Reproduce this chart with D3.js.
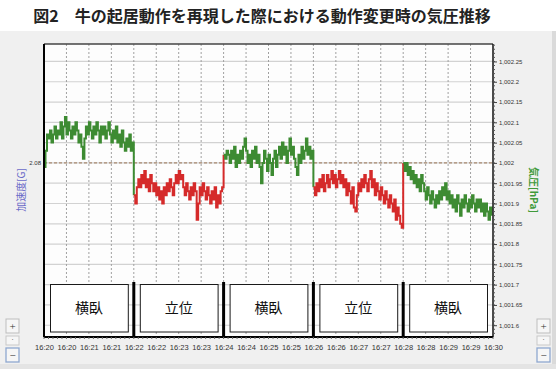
<!DOCTYPE html>
<html>
<head>
<meta charset="utf-8">
<script src="https://cdn.jsdelivr.net/npm/d3@7"></script>
<style>
  body { margin: 0; background: #fff; }
  svg { display: block; }
</style>
</head>
<body>
<div id="chart"></div>
<script>
// chart text
const chartTitle = '図2　牛の起居動作を再現した際における動作変更時の気圧推移';
const leftTitle = '加速度[G]';
const rightTitle = '気圧[hPa]';

// posture phases (label, start/end times)
const phaseLabels = ['横臥', '立位', '横臥', '立位', '横臥'];
const phaseTimes = ['16:20', '16:22', '16:24', '16:26', '16:28', '16:30'];
const phaseColors = ['#3d8b32', '#d52a2a', '#3d8b32', '#d52a2a', '#3d8b32'];

// pressure [hPa], one sample every 2 s inside each phase
const sampleStep = 2;
const pressure1 = [1001.99, 1002.03, 1002.07,
                   1002.06, 1002.08, 1002.05, 1002.07, 1002.09, 1002.06, 1002.08, 1002.07, 1002.10, 1002.06,
                   1002.09, 1002.113, 1002.07, 1002.10,
                   1002.08, 1002.06, 1002.09, 1002.07, 1002.10, 1002.08, 1002.05, 1002.07,
                   1002.04, 1002.01, 1002.06,
                   1002.09, 1002.07, 1002.10, 1002.08, 1002.06, 1002.09, 1002.07, 1002.10, 1002.08, 1002.05,
                   1002.09, 1002.07, 1002.09, 1002.06, 1002.08, 1002.10, 1002.07, 1002.05,
                   1002.08, 1002.06, 1002.09, 1002.05, 1002.07, 1002.04, 1002.08, 1002.05, 1002.03, 1002.06,
                   1002.04, 1002.07, 1002.03, 1002.05];
const pressure2 = [1001.92, 1001.90, 1001.94, 1001.96,
                   1001.94, 1001.97, 1001.95, 1001.98, 1001.94, 1001.96, 1001.93, 1001.97, 1001.95,
                   1001.93, 1001.95, 1001.92, 1001.94, 1001.91, 1001.93, 1001.90,
                   1001.94, 1001.92, 1001.95, 1001.93, 1001.96, 1001.94, 1001.92, 1001.95,
                   1001.97, 1001.95, 1001.98, 1001.96, 1001.97,
                   1001.94, 1001.92, 1001.95, 1001.93, 1001.91, 1001.94, 1001.92, 1001.95, 1001.93,
                   1001.86, 1001.90,
                   1001.94, 1001.92, 1001.95, 1001.93, 1001.91, 1001.94, 1001.92,
                   1001.90, 1001.93, 1001.91, 1001.94, 1001.89, 1001.92, 1001.90, 1001.93, 1001.94];
const pressure3 = [1002.02, 1002.01, 1002.03, 1002.02,
                   1002.00, 1002.03, 1002.01, 1002.04, 1001.99, 1002.02, 1002.00, 1002.03, 1002.01,
                   1002.04, 1002.06, 1002.03,
                   1002.00, 1002.02, 1001.99, 1002.03, 1002.01, 1002.04, 1002.00, 1002.02, 1001.99,
                   1001.95, 1002.00,
                   1002.03, 1002.01, 1001.98, 1002.02, 1002.00, 1001.97, 1002.01, 1002.03, 1001.99,
                   1002.02, 1002.04, 1002.01, 1002.05, 1002.02, 1002.04, 1002.00, 1002.03, 1002.06, 1002.02,
                   1002.04, 1002.01, 1001.99, 1001.97,
                   1002.02, 1002.00, 1002.04, 1002.01, 1002.03, 1002.06, 1002.02, 1002.04, 1002.01, 1002.03];
const pressure4 = [1001.94, 1001.92, 1001.95, 1001.93,
                   1001.96, 1001.94, 1001.97, 1001.93, 1001.95, 1001.97, 1001.94,
                   1001.96, 1001.98, 1001.95, 1001.97, 1001.94, 1001.96, 1001.98, 1001.95, 1001.97,
                   1001.94, 1001.96, 1001.92, 1001.95, 1001.93, 1001.90, 1001.94,
                   1001.89, 1001.88, 1001.92,
                   1001.95, 1001.93, 1001.96, 1001.94, 1001.97, 1001.95, 1001.93, 1001.96, 1001.98, 1001.94,
                   1001.96, 1001.92, 1001.95, 1001.93,
                   1001.91, 1001.94, 1001.92, 1001.90, 1001.93, 1001.91, 1001.89, 1001.92, 1001.90, 1001.88,
                   1001.91, 1001.86, 1001.89, 1001.87, 1001.85, 1001.84];
const pressure5 = [1002.00, 1001.98, 1002.00, 1001.97, 1001.99,
                   1001.96, 1001.98, 1001.95, 1001.97, 1001.94, 1001.96, 1001.93, 1001.97, 1001.95, 1001.93,
                   1001.91, 1001.94, 1001.92, 1001.90, 1001.93, 1001.91, 1001.89, 1001.92,
                   1001.90, 1001.93, 1001.91, 1001.94, 1001.92, 1001.95, 1001.91, 1001.93,
                   1001.90, 1001.92, 1001.89, 1001.91, 1001.88, 1001.92, 1001.90, 1001.87, 1001.91,
                   1001.89, 1001.92, 1001.90, 1001.88, 1001.91, 1001.89, 1001.92, 1001.90, 1001.88, 1001.91,
                   1001.89, 1001.91, 1001.88, 1001.90, 1001.87, 1001.90, 1001.88, 1001.86, 1001.89, 1001.87];
const pressureSegments = [pressure1, pressure2, pressure3, pressure4, pressure5];

// axis settings
const pressureDomain = [1001.571, 1002.293];
const pressureTicks = d3.ticks(1001.6, 1002.25, 13);
const refPressure = 1002;     // dashed reference line
const refAccelLabel = '2.08'; // acceleration value at that line

class PressureChart {
    constructor(_config) {
        this.config = {
            parentElement: _config.parentElement,
            containerWidth: _config.containerWidth || 556,
            containerHeight: _config.containerHeight || 369,
            plot: _config.plot || {left: 44, right: 493, top: 44, bottom: 337}
        };
        this.initVis();
    }

    initVis() {
        let vis = this;
        const p = vis.config.plot;
        vis.parseTime = d3.timeParse('%H:%M');

        vis.svg = d3.select(vis.config.parentElement)
            .append('svg')
            .attr('width', vis.config.containerWidth)
            .attr('height', vis.config.containerHeight);

        vis.xScale = d3.scaleTime()
            .domain([vis.parseTime(phaseTimes[0]), vis.parseTime(phaseTimes[phaseTimes.length - 1])])
            .range([p.left, p.right]);

        vis.yScale = d3.scaleLinear()
            .domain(pressureDomain)
            .range([p.bottom, p.top]);

        vis.renderVis();
    }

    drawButtons(x) {
        let vis = this;
        const g = vis.svg.append('g').attr('transform', `translate(${x},0)`);
        g.append('rect').attr('x', 0).attr('y', 319).attr('width', 13).attr('height', 14)
            .attr('fill', '#f6f6f6').attr('stroke', '#bdbdbd');
        g.append('text').attr('x', 6.5).attr('y', 329.5).attr('text-anchor', 'middle')
            .attr('font-size', 11).attr('fill', '#333').text('+');
        g.append('rect').attr('x', 0).attr('y', 336).attr('width', 13).attr('height', 9)
            .attr('fill', '#f6f6f6').attr('stroke', '#c8c8c8');
        g.append('text').attr('x', 6.5).attr('y', 342).attr('text-anchor', 'middle')
            .attr('font-size', 8).attr('fill', '#555').text('·');
        g.append('rect').attr('x', 0).attr('y', 348).attr('width', 13).attr('height', 14)
            .attr('fill', '#f6f6f6').attr('stroke', '#8fa8d0').attr('stroke-width', 1.3);
        g.append('text').attr('x', 6.5).attr('y', 358.5).attr('text-anchor', 'middle')
            .attr('font-size', 11).attr('fill', '#333').text('−');
    }

    renderVis() {
        let vis = this;
        const p = vis.config.plot;
        const x = vis.xScale, y = vis.yScale;

        // title
        vis.svg.append('text')
            .attr('x', 262).attr('y', 22)
            .attr('text-anchor', 'middle')
            .attr('font-family', '"Noto Sans CJK JP", sans-serif')
            .attr('font-weight', 'bold')
            .attr('font-size', 16)
            .attr('fill', '#222')
            .text(chartTitle);

        // window panel
        vis.svg.append('rect').attr('x', 0).attr('y', 31).attr('width', 556).attr('height', 338).attr('fill', '#f0f0f0');
        vis.svg.append('rect').attr('x', 552).attr('y', 31).attr('width', 4).attr('height', 338).attr('fill', '#dadada');
        vis.svg.append('rect').attr('x', 0).attr('y', 364).attr('width', 556).attr('height', 5).attr('fill', '#e4e4e4');

        // plot background
        vis.svg.append('rect')
            .attr('x', p.left).attr('y', p.top)
            .attr('width', p.right - p.left).attr('height', p.bottom - p.top)
            .attr('fill', '#fdfdfd');

        // horizontal grid
        vis.svg.append('g').selectAll('line')
            .data(pressureTicks)
            .join('line')
                .attr('x1', p.left).attr('x2', p.right)
                .attr('y1', d => y(d)).attr('y2', d => y(d))
                .attr('stroke', '#d2d2d2').attr('stroke-width', 1.2);

        // vertical grid every 30 s
        const gridTimes = x.ticks(d3.timeSecond.every(30)).slice(1, -1);
        vis.svg.append('g').selectAll('line')
            .data(gridTimes)
            .join('line')
                .attr('x1', d => x(d)).attr('x2', d => x(d))
                .attr('y1', p.top).attr('y2', p.bottom)
                .attr('stroke', '#a0a0a0').attr('stroke-dasharray', '2,2');

        // reference line
        vis.svg.append('line')
            .attr('x1', p.left).attr('x2', p.right)
            .attr('y1', y(refPressure)).attr('y2', y(refPressure))
            .attr('stroke', '#a98b72').attr('stroke-width', 1.2).attr('stroke-dasharray', '3,2');

        // pressure line, each phase coloured, joined to the next phase's first sample
        const line = d3.line()
            .x(d => x(d.t)).y(d => y(d.v))
            .curve(d3.curveStepAfter);

        pressureSegments.forEach((seg, k) => {
            const start = vis.parseTime(phaseTimes[k]);
            let pts = seg.map((v, i) => ({t: d3.timeSecond.offset(start, i * sampleStep), v: v}));
            if (k < pressureSegments.length - 1) {
                pts.push({t: vis.parseTime(phaseTimes[k + 1]), v: pressureSegments[k + 1][0]});
            }
            vis.svg.append('path')
                .datum(pts)
                .attr('fill', 'none')
                .attr('stroke', phaseColors[k])
                .attr('stroke-width', 2)
                .attr('d', line);
        });

        // phase boxes
        const phases = phaseLabels.map((label, i) => ({
            label: label,
            start: vis.parseTime(phaseTimes[i]),
            end: vis.parseTime(phaseTimes[i + 1])
        }));
        const boxes = vis.svg.append('g').selectAll('g')
            .data(phases)
            .join('g');
        boxes.append('rect')
            .attr('x', d => x(d.start) + 6.5)
            .attr('y', 284.5)
            .attr('width', d => x(d.end) - x(d.start) - 12)
            .attr('height', 47.5)
            .attr('fill', '#fff')
            .attr('stroke', '#1a1a1a');
        boxes.append('text')
            .attr('x', d => (x(d.start) + x(d.end)) / 2)
            .attr('y', 313)
            .attr('text-anchor', 'middle')
            .attr('font-family', '"Noto Sans CJK JP", sans-serif')
            .attr('font-size', 14)
            .attr('fill', '#111')
            .text(d => d.label);

        // thick separators between phases
        vis.svg.append('g').selectAll('line')
            .data(phaseTimes.slice(1, -1))
            .join('line')
                .attr('x1', d => x(vis.parseTime(d))).attr('x2', d => x(vis.parseTime(d)))
                .attr('y1', 282).attr('y2', p.bottom)
                .attr('stroke', '#000').attr('stroke-width', 3);

        // plot border
        vis.svg.append('line').attr('x1', p.left).attr('x2', p.right).attr('y1', p.top).attr('y2', p.top)
            .attr('stroke', '#444').attr('stroke-width', 1.5);
        vis.svg.append('line').attr('x1', p.right).attr('x2', p.right).attr('y1', p.top).attr('y2', p.bottom)
            .attr('stroke', '#111').attr('stroke-width', 1.5);
        vis.svg.append('line').attr('x1', p.left).attr('x2', p.right).attr('y1', p.bottom).attr('y2', p.bottom)
            .attr('stroke', '#000').attr('stroke-width', 2);
        vis.svg.append('line').attr('x1', p.left).attr('x2', p.left).attr('y1', p.top).attr('y2', p.bottom)
            .attr('stroke', '#000').attr('stroke-width', 2);

        // right (pressure) axis
        const minorY = d3.ticks(1001.58, 1002.29, 70);
        vis.svg.append('g').selectAll('line')
            .data(minorY)
            .join('line')
                .attr('x1', p.right).attr('x2', p.right + 2)
                .attr('y1', d => y(d)).attr('y2', d => y(d))
                .attr('stroke', '#555');
        const yAxis = vis.svg.append('g')
            .attr('transform', `translate(${p.right},0)`)
            .call(d3.axisRight(y).tickValues(pressureTicks).tickSize(4).tickPadding(2).tickFormat(d3.format(',')));
        yAxis.select('.domain').remove();
        yAxis.selectAll('line').attr('stroke', '#444');
        yAxis.selectAll('text')
            .attr('font-family', '"Liberation Sans Narrow", "Liberation Sans", sans-serif')
            .attr('font-size', 6)
            .attr('fill', '#333');

        // bottom (time) axis
        const minorX = x.ticks(d3.timeSecond.every(6));
        vis.svg.append('g').selectAll('line')
            .data(minorX)
            .join('line')
                .attr('x1', d => x(d)).attr('x2', d => x(d))
                .attr('y1', p.bottom).attr('y2', p.bottom + 2)
                .attr('stroke', '#666');
        const xAxis = vis.svg.append('g')
            .attr('transform', `translate(0,${p.bottom})`)
            .call(d3.axisBottom(x).ticks(d3.timeSecond.every(30)).tickFormat(d3.timeFormat('%H:%M')).tickSize(0).tickPadding(8));
        xAxis.select('.domain').remove();
        xAxis.selectAll('text')
            .attr('font-family', '"Liberation Sans", sans-serif')
            .attr('font-size', 7.5)
            .attr('fill', '#333');

        // left label at the reference line
        vis.svg.append('text')
            .attr('x', p.left - 3).attr('y', y(refPressure) + 2)
            .attr('text-anchor', 'end')
            .attr('font-family', '"Liberation Sans", sans-serif')
            .attr('font-size', 6)
            .attr('fill', '#333')
            .text(refAccelLabel);

        // axis titles
        vis.svg.append('text')
            .attr('transform', 'translate(25,190) rotate(-90)')
            .attr('text-anchor', 'middle')
            .attr('font-family', '"Noto Sans CJK JP", sans-serif')
            .attr('font-size', 10)
            .attr('fill', '#6a6ac8')
            .text(leftTitle);
        vis.svg.append('text')
            .attr('transform', 'translate(530,190) rotate(90)')
            .attr('text-anchor', 'middle')
            .attr('font-family', '"Noto Sans CJK JP", sans-serif')
            .attr('font-size', 10)
            .attr('font-weight', 'bold')
            .attr('fill', '#3f9a3a')
            .text(rightTitle);

        // zoom buttons
        vis.drawButtons(6);
        vis.drawButtons(537);
    }
}

new PressureChart({parentElement: '#chart'});
</script>
</body>
</html>
